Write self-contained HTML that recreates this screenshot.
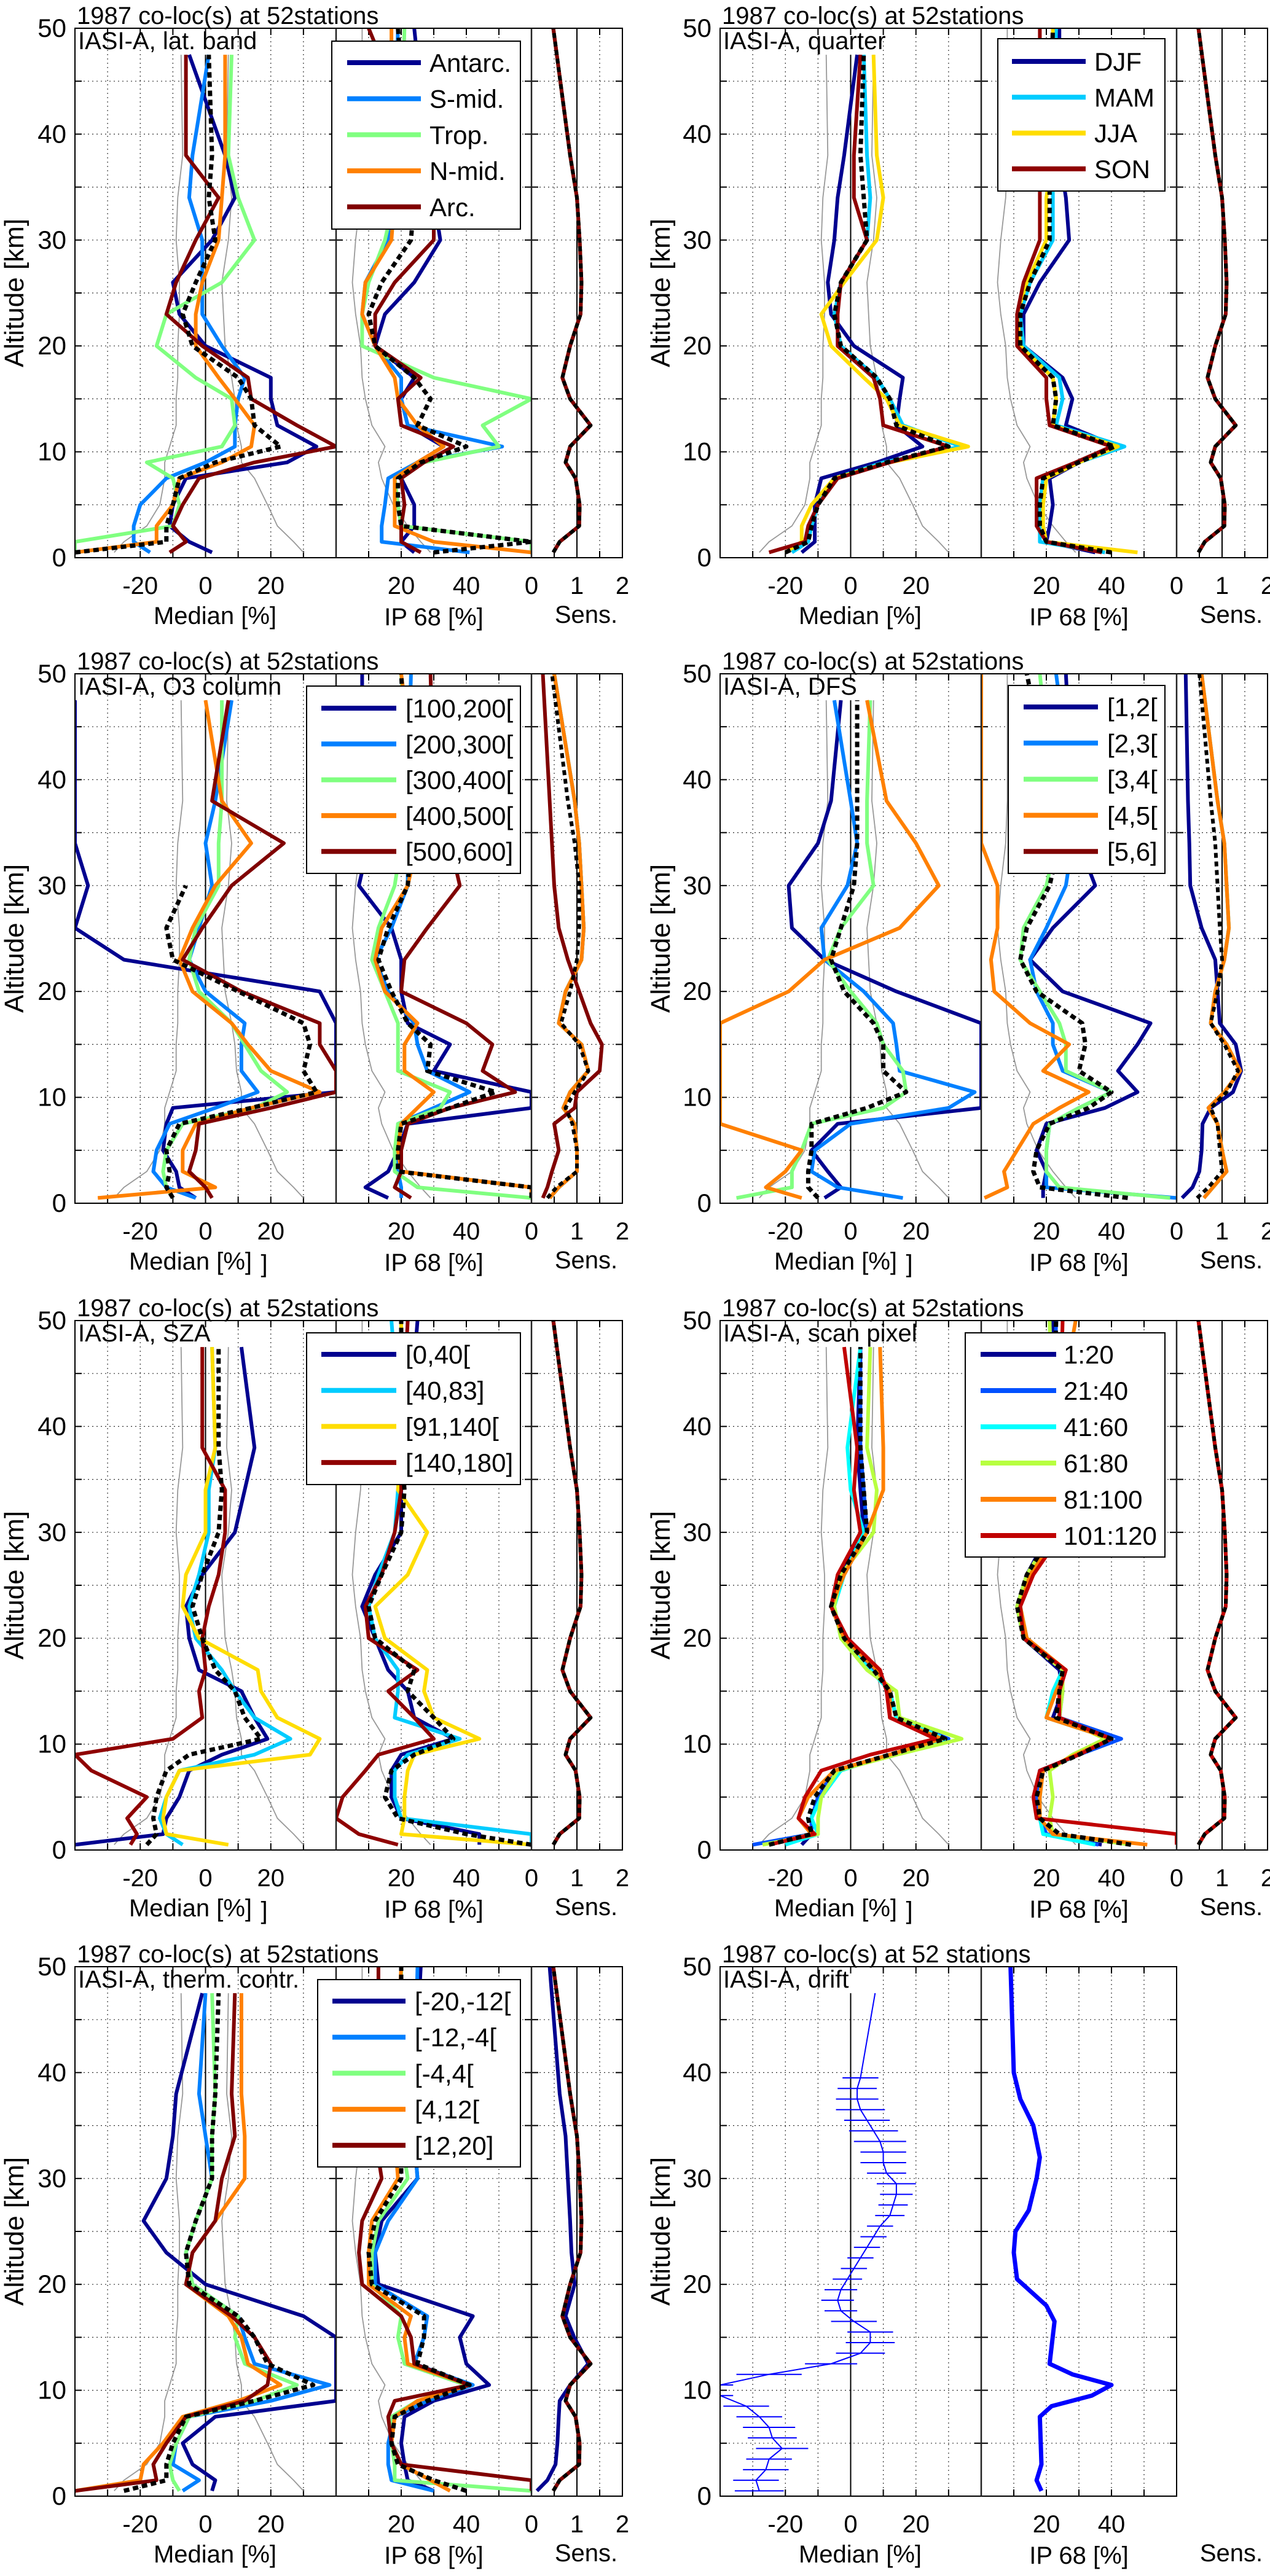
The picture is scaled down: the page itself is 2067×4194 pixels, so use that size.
<!DOCTYPE html>
<html><head><meta charset="utf-8"><title>IASI-A ozone validation profiles</title>
<style>
html,body{margin:0;padding:0;background:#fff;}
svg{display:block;font-family:"Liberation Sans",Arial,sans-serif;}
</style></head>
<body>
<svg id="fig" xmlns="http://www.w3.org/2000/svg" width="2067" height="4194" viewBox="0 0 2067 4194"></svg>
<script>
// ---------- altitude grids ----------
const ZM = [0.5,1.5,3,5,7.5,9,10.5,12.5,15,17,20,23,26,30,34,38,47.5];
const ZT = [0.5,1.5,3,5,7.5,9,10.5,12.5,15,17,20,23,26,30,34,38,50];

// ---------- shared gray envelopes ----------
const grayMedLeft  = [-28,-25,-18,-14,-12.5,-12.5,-11,-9,-9,-8.5,-8.5,-8,-8,-9,-8.5,-7,-7.5];
const grayMedRight = [30,27,22,19,15,11,11,9.5,9,8,6,5.5,5,7,8,6.5,7];
const grayIp       = [29,26,22,17.5,14,13,15,11,9,8,7.5,6,5,6,7.5,8,8];
const genSens      = [0.48,0.62,1.05,1.06,0.97,0.75,0.85,1.3,0.85,0.68,0.85,1.08,1.1,1.06,1.0,0.85,0.48];

// ---------- panel 1: lat. band ----------
const latNames = ["Antarc.","S-mid.","Trop.","N-mid.","Arc."];
const latMed = [
 [2,-5,-11,-10,-6,25,34,22,20,20,0,-8,-10,2,9,6,-5],
 [-17,-22,-22,-20,-12,0,9,9,10,12,5,-1,-1,-1,-5,-4,1],
 [-40,-40,-10,-8,-10,-18,5,9,8,-3,-15,-12,5,15,10,7,8],
 [-40,-15,-15,-10,-8,5,14,15,9,4,-3,-3,-1,4,5,6,6],
 [-11,-6,-10,-7,-2,15,40,28,14,13,-1,-12,-9,-3,4,-6,-6]];
const latIp = [
 [24,20,24,24,20,25,33,22,20,24,12,15,24,32,30,28,24],
 [41,14,14,15,16,25,51,22,20,20,12,8,9,16,18,18,19],
 [60,60,20,19,18,27,50,45,60,30,8,8,10,15,18,20,21],
 [60,30,18,18,18,25,33,25,19,18,12,8,9,17,18,17,17],
 [26,20,20,21,20,27,36,20,19,26,12,12,18,30,30,26,10]];
const latSens = [genSens,genSens,genSens,genSens,genSens];
const latMeanMed = [-40,-12,-12,-10,-8,3,23,15,14,10,-4,-7,-3,3,1,2,1];
const latMeanIp = [30,60,20,19,19,26,40,25,29,24,12,10,14,23,24,22,19];
const latMeanSens = genSens;

// ---------- panel 2: quarter ----------
const qNames = ["DJF","MAM","JJA","SON"];
const qMed = [
 [-15,-11,-11,-11,-9,8,22,14,15,16,1,-6,-7,-5,-4,-2,2],
 [-18,-13,-12,-10,-5,10,34,16,12,8,-3,-5,-3,5,6,5,4],
 [-20,-15,-15,-12,-5,12,36,15,11,4,-6,-9,-2,8,10,8,7],
 [-25,-14,-13,-10,-4,12,30,10,9,7,-4,-4,-3,5,1,1,3]];
const qIp = [
 [35,20,21,22,21,30,42,26,28,25,13,13,18,27,26,24,24],
 [38,18,18,18,19,30,44,23,25,24,13,12,15,22,22,22,23],
 [48,20,19,19,20,30,42,22,23,22,12,11,14,20,20,22,22],
 [37,20,17,17,17,29,40,21,20,20,11,11,13,18,18,18,18]];
const qSens = [genSens,genSens,genSens,genSens];
const qMeanMed = [-20,-13,-12,-10,-5,11,30,14,12,8,-3,-5,-3,5,4,3,4];
const qMeanIp = [40,20,18,18,19,30,41,22,23,22,12,12,15,21,21,21,22];
const qMeanSens = genSens;

// ---------- panel 3: O3 column ----------
const o3Names = ["[100,200[","[200,300[","[300,400[","[400,500[","[500,600]"];
const o3Med = [
 [-3,-8,-9,-13,-12,-10,40,40,40,40,35,-25,-40,-36,-40,-40,-40],
 [-3,-12,-16,-15,-11,3,16,11,11,12,0,-5,-2,2,0,3,8],
 [-10,-12,-13,-12,-7,15,25,17,12,8,-2,-5,-3,4,4,5,5],
 [-33,3,-7,-7,-3,14,35,20,13,8,-4,-8,-4,3,14,5,0],
 [2,0,-5,-3,-2,20,40,40,35,35,11,-7,-1,8,24,2,7]];
const o3Ip = [
 [16,9,16,19,22,60,60,30,35,22,20,20,17,7,10,8,8],
 [20,20,19,19,19,30,41,28,25,24,16,12,17,22,22,22,23],
 [60,25,18,18,19,32,35,19,19,19,15,11,13,18,20,22,20],
 [60,60,20,19,20,25,30,21,21,25,15,12,14,22,25,25,20],
 [23,18,20,20,22,35,55,45,48,40,20,21,28,38,35,30,29]];
const o3SensOther = [0.4,0.6,1.0,1.0,0.95,0.7,0.85,1.25,1.1,0.6,0.75,1.1,1.15,1.1,1.05,0.95,0.5];
const o3SensHigh = [0.25,0.35,0.45,0.6,0.5,0.95,1.0,1.5,1.55,1.3,1.05,0.8,0.6,0.5,0.45,0.4,0.25];
const o3Sens = [o3SensOther,o3SensOther,o3SensOther,o3SensOther,o3SensHigh];
const o3MeanMed = [-10,-12,-11,-12,-8,14,34,30,32,30,10,-10,-12,-6,null,null,null];
const o3MeanIp = [60,60,19,19,20,35,49,28,29,22,17,13,16,22,23,22,20];
const o3MeanSens = [0.35,0.55,1.0,1.0,0.9,0.75,0.95,1.25,1.05,0.65,0.85,1.0,1.05,1.05,0.95,0.8,0.45];

// ---------- panel 4: DFS ----------
const dfsNames = ["[1,2[","[2,3[","[3,4[","[4,5[","[5,6]"];
const dfsMed = [
 [-8,-3,-7,-12,-4,40,40,40,40,40,14,-8,-18,-19,-10,-6,-3],
 [16,-4,-12,-11,0,30,38,15,14,13,4,-8,-9,-1,2,0,-5],
 [-35,-18,-18,-15,-12,10,17,16,10,8,0,-7,-3,7,5,5,6],
 [-15,-26,-20,-15,-40,-40,-40,-40,-40,-40,-19,-8,15,27,20,11,5],
 [null,null,null,null,null,null,null,null,null,null,null,null,null,null,null,null,null]];
const dfsIp = [
 [19,19,20,17,20,38,48,42,48,52,25,15,22,35,30,28,26],
 [60,20,20,20,21,30,40,25,22,22,17,15,20,26,28,28,23],
 [58,24,20,20,21,30,40,26,26,24,18,12,13,20,23,22,18],
 [1,8,7,11,16,24,33,19,27,15,4,3,5,5,0,0,0],
 [null,null,null,null,null,null,null,null,null,null,null,null,null,null,null,null,null]];
const dfsSensLow = [0.12,0.35,0.5,0.55,0.57,0.75,1.24,1.42,1.3,0.95,0.9,0.85,0.55,0.3,0.28,0.25,0.2];
const dfsSensOther = [0.6,0.8,1.1,1.0,0.9,0.7,1.05,1.4,1.1,0.75,0.85,1.05,1.15,1.1,1.05,0.9,0.55];
const dfsSens = [dfsSensLow,dfsSensOther,dfsSensOther,dfsSensOther,dfsMed[4]];
const dfsMeanMed = [-10,-13,-13,-12,-12,5,17,10,10,7,-2,-6,-3,1,2,2,2];
const dfsMeanIp = [45,18,16,17,21,33,40,30,32,31,17,12,14,21,24,22,14];
const dfsMeanSens = [0.45,0.7,1.0,0.95,0.9,0.75,1.1,1.35,1.05,0.75,0.9,1.0,0.95,0.9,0.85,0.75,0.5];

// ---------- panel 5: SZA ----------
const szaNames = ["[0,40[","[40,83]","[91,140[","[140,180]"];
const szaMed = [
 [-40,-13,-12,-8,-5,5,19,15,11,-2,-5,-6,-1,9,12,15,11],
 [-7,-12,-14,-12,-8,15,26,15,9,5,-3,-5,-2,1,1,3,2],
 [7,-12,-13,-12,-8,32,35,22,17,16,-2,-7,-6,0,0,3,2],
 [-23,-21,-24,-18,-35,-40,-10,-1,-2,0,-1,1,4,6,6,-1,-1]];
const szaIp = [
 [44,44,20,17,17,20,36,24,22,16,12,8,12,20,20,22,25],
 [60,60,20,18,18,22,38,18,19,19,12,10,13,18,19,20,17],
 [60,20,21,21,22,24,44,30,27,28,15,12,22,28,19,20,20],
 [19,7,0,2,9,13,30,24,16,25,10,9,14,18,20,20,22]];
const szaSens = [genSens,genSens,genSens,genSens];
const szaMeanMed = [-18,-15,-16,-15,-12,-5,17,12,9,3,-1,-4,-1,4,5,4,4];
const szaMeanIp = [60,40,19,15,17,24,36,30,22,24,12,10,14,20,21,20,20];
const szaMeanSens = genSens;

// ---------- panel 6: scan pixel ----------
const scanNames = ["1:20","21:40","41:60","61:80","81:100","101:120"];
const scanMed = [
 [-15,-12,-12,-10,-5,12,28,12,12,8,-2,-6,-3,4,3,2,3],
 [-30,-12,-12,-10,-5,12,30,14,12,7,-2,-6,-2,5,4,3,3],
 [-20,-10,-12,-9,-3,12,29,14,12,6,-3,-5,-2,4,0,-1,3],
 [-27,-10,-10,-9,-4,14,34,15,14,5,-3,-5,-3,7,8,5,6],
 [-25,-12,-16,-13,-5,12,28,12,12,8,-2,-6,-2,5,10,10,9],
 [-25,-11,-16,-14,-9,6,26,12,11,9,-1,-6,-4,3,1,2,-2]];
const scanIp = [
 [37,20,18,17,18,30,40,22,25,24,13,11,14,21,22,22,22],
 [36,20,18,17,18,30,43,24,25,25,13,11,14,22,22,22,23],
 [35,19,18,18,19,30,40,20,22,25,14,12,15,22,22,22,21],
 [46,22,21,22,21,28,38,24,25,25,13,11,14,22,22,22,21],
 [51,22,18,18,19,29,40,20,23,26,14,12,15,24,23,22,29],
 [60,60,17,16,18,30,40,24,24,26,13,12,16,25,24,24,25]];
const scanSens = [genSens,genSens,genSens,genSens,genSens,genSens];
const scanMeanMed = [-25,-12,-13,-11,-5,12,29,14,12,7,-2,-6,-3,5,4,3,3];
const scanMeanIp = [46,24,18,17,19,30,40,23,24,25,13,11,14,22,22,22,23];
const scanMeanSens = genSens;

// ---------- panel 7: therm. contr. ----------
const thNames = ["[-20,-12[","[-12,-4[","[-4,4[","[4,12[","[12,20]"];
const thMed = [
 [2,3,-4,-7,3,40,40,40,40,30,0,-12,-19,-12,-10,-9,-1],
 [-7,-2,-10,-9,-5,20,38,15,12,10,-4,-6,-3,2,0,-2,0],
 [-8,-10,-11,-9,-5,15,28,12,9,10,-4,-6,-3,2,2,3,2],
 [-40,-20,-19,-13,-7,10,23,13,11,7,-6,-4,3,12,12,11,11],
 [-40,-15,-16,-12,-6,12,19,20,15,8,-6,-4,3,5,9,8,9]];
const thIp = [
 [30,22,21,20,21,30,47,40,38,42,13,12,14,25,24,24,26],
 [30,17,16,16,18,28,42,24,27,28,12,12,16,25,24,24,25],
 [60,18,18,17,17,25,40,21,19,20,11,11,13,22,20,20,20],
 [35,29,20,17,18,25,41,22,21,23,10,10,11,19,18,18,20],
 [60,60,20,17,16,18,41,24,23,20,8,7,8,14,12,13,13]];
const thSensLow = [0.12,0.35,0.53,0.57,0.6,0.62,0.85,1.25,0.94,0.75,0.95,0.88,0.85,0.8,0.75,0.62,0.4];
const thSens = [thSensLow,genSens,genSens,genSens,genSens];
const thMeanMed = [-25,-12,-12,-10,-6,15,33,19,15,10,-5,-6,-3,2,2,3,4];
const thMeanIp = [40,30,19,17,18,28,41,25,27,27,11,10,12,20,20,20,20];
const thMeanSens = genSens;

// ---------- panel 8: drift ----------
const driftZ = [0.5,1.5,2.5,3.5,4.5,5.5,6.5,7.5,8.5,9.5,10.5,11.5,12.5,13.5,14.5,15.5,16.5,17.5,18.5,19.5,20.5,21.5,22.5,23.5,24.5,25.5,26.5,27.5,28.5,29.5,30.5,31.5,32.5,33.5,34.5,35.5,36.5,37.5,38.5,39.5];
const driftMed = [-28,-29,-26,-25,-21,-24,-25,-28,-32,-40,-40,-25,-6,3,6,6,1,-3,-4,-3,-1,1,3,5,7,9,12,13,14,14,11,10,10,9,7,5,3,2,2,3];
const driftErr = [7.5,7,7,7,8,7.5,8,7,7,4,4,10,8,7.5,7.5,7,7,5,5,5,4.5,4,4,4,4,4,4.5,4.5,5,6,6,7,7,8,7.5,7,7.5,6.5,6,5.5];
const driftTopZ = 47.5;
const driftTopMed = 7.5;
const driftIpZ = [0.5,1.5,3,7.5,8.5,9.5,10.5,11.5,12.5,16.5,18,20.5,23,25,27,30,32,35,37.5,40,50];
const driftIp = [18.5,17,18.5,18,21.6,34,40,28,21,22.5,20,11,10,10.5,14.6,17,18,16,12,10,9];

// ---------- layout ----------
const ROW_T = [46,1097,2150,3202];
const PH = 862;
const COLX = [122,1172];
const SVGNS = "http://www.w3.org/2000/svg";
const svg = document.getElementById('fig');

function mk(tag, parent){
  const el = document.createElementNS(SVGNS, tag);
  parent.appendChild(el);
  return el;
}
function txt(parent, s, x, y, size, anchor){
  const t = mk('text', parent);
  t.setAttribute('x', x); t.setAttribute('y', y);
  t.setAttribute('font-size', size);
  t.setAttribute('text-anchor', anchor || 'start');
  t.setAttribute('fill', '#000');
  t.textContent = s;
  return t;
}
function poly(parent, pts, color, w, dash){
  // split on null values
  let segs = [], cur = [];
  pts.forEach(p => { if (p === null) { if (cur.length) segs.push(cur); cur = []; } else cur.push(p); });
  if (cur.length) segs.push(cur);
  const els = [];
  segs.forEach(s => {
    if (s.length < 2) return;
    const pl = mk('polyline', parent);
    pl.setAttribute('points', s.map(p => p[0].toFixed(1)+','+p[1].toFixed(1)).join(' '));
    pl.setAttribute('fill', 'none');
    pl.setAttribute('stroke', color);
    pl.setAttribute('stroke-width', w);
    pl.setAttribute('stroke-linejoin', 'round');
    if (dash) pl.setAttribute('stroke-dasharray', dash);
    els.push(pl);
  });
  return els;
}
let clipId = 0;
function clipRect(x, y, w, h){
  const defs = mk('defs', svg);
  const cp = mk('clipPath', defs);
  const id = 'c' + (clipId++);
  cp.setAttribute('id', id);
  const r = mk('rect', cp);
  r.setAttribute('x', x); r.setAttribute('y', y); r.setAttribute('width', w); r.setAttribute('height', h);
  return 'url(#' + id + ')';
}
function hline(parent, x1, x2, y, color, w, dash){
  const l = mk('line', parent);
  l.setAttribute('x1', x1); l.setAttribute('x2', x2); l.setAttribute('y1', y); l.setAttribute('y2', y);
  l.setAttribute('stroke', color); l.setAttribute('stroke-width', w);
  if (dash) l.setAttribute('stroke-dasharray', dash);
  return l;
}
function vline(parent, x, y1, y2, color, w, dash){
  const l = mk('line', parent);
  l.setAttribute('x1', x); l.setAttribute('x2', x); l.setAttribute('y1', y1); l.setAttribute('y2', y2);
  l.setAttribute('stroke', color); l.setAttribute('stroke-width', w);
  if (dash) l.setAttribute('stroke-dasharray', dash);
  return l;
}

function drawPanel(P){
  const X0 = COLX[P.col], XM = X0 + 425, XI = XM + 318, XS = XI + 148;
  const T = ROW_T[P.row], B = T + PH;
  const yz = z => T + (50 - z) / 50 * PH;
  const xMed = v => X0 + (v + 40) / 80 * 425;
  const xIp = v => XM + v / 60 * 318;
  const xSens = v => XI + v / 2 * 148;
  const XR = P.noSens ? XI : XS;

  const g = mk('g', svg);
  
  

  // title
  const title = txt(g, P.title, X0 + 3, T - 7, 40);
  
  

  // grid
  const grid = mk('g', g);
  
  
  for (let z = 5; z < 50; z += 5) hline(grid, X0, XR, yz(z), '#333', 1.2, '2,5');
  [-30,-20,-10,10,20,30].forEach(v => vline(grid, xMed(v), T, B, '#333', 1.2, '2,5'));
  [10,20,30,40,50].forEach(v => vline(grid, xIp(v), T, B, '#333', 1.2, '2,5'));
  if (!P.noSens) [0.5,1.5].forEach(v => vline(grid, xSens(v), T, B, '#333', 1.2, '2,5'));
  const zeroLine = vline(g, xMed(0), yz(47.5), B, '#000', 2);
  
  
  if (!P.noSens) {
    const oneLine = vline(g, xSens(1), T, B, '#000', 2);
    
    
  }

  // ticks
  const ticks = mk('g', g);
  
  
  const edges = P.noSens ? [[X0, XM], [XM, XI]] : [[X0, XM], [XM, XI], [XI, XS]];
  edges.forEach(e => {
    for (let z = 5; z < 50; z += 5) {
      hline(ticks, e[0], e[0] + 11, yz(z), '#000', 2);
      hline(ticks, e[1] - 11, e[1], yz(z), '#000', 2);
    }
  });
  const xt = [...[-30,-20,-10,0,10,20,30].map(xMed), ...[10,20,30,40,50].map(xIp)];
  if (!P.noSens) xt.push(...[0.5,1,1.5].map(xSens));
  xt.forEach(x => { vline(ticks, x, B - 11, B, '#000', 2); vline(ticks, x, T, T + 11, '#000', 2); });

  // clips
  const cM = clipRect(X0, T, 425, PH), cI = clipRect(XM, T, 318, PH), cS = clipRect(XI, T, 148, PH);
  const gM = mk('g', g); gM.setAttribute('clip-path', cM);
  
  
  const gI = mk('g', g); gI.setAttribute('clip-path', cI);
  
  
  const gS = mk('g', g); gS.setAttribute('clip-path', cS);
  
  

  if (P.drift) {
    // drift median + error bars
    const pts = driftZ.map((z, i) => [xMed(driftMed[i]), yz(z)]);
    pts.push([xMed(driftTopMed), yz(driftTopZ)]);
    poly(gM, pts, '#0000ff', 2).forEach(el => {
      
      
    });
    driftZ.forEach((z, i) => {
      const eb = hline(gM, xMed(driftMed[i] - driftErr[i]), xMed(driftMed[i] + driftErr[i]), yz(z), '#0000ff', 2);
      
      
    });
    poly(gI, driftIpZ.map((z, i) => [xIp(driftIp[i]), yz(z)]), '#0000ff', 7).forEach(el => {
      
      
    });
  } else {
    // gray envelopes
    [grayMedLeft, grayMedRight].forEach(arr => {
      poly(gM, ZM.map((z, i) => [xMed(arr[i]), yz(z)]), '#999', 1.8).forEach(el => {
        
        
      });
    });
    poly(gI, ZT.map((z, i) => [xIp(grayIp[i]), yz(z)]), '#999', 1.8).forEach(el => {
      
      
    });
    P.names.forEach((nm, s) => {
      const m = P.med[s], ip = P.ip[s], se = P.sens[s];
      poly(gM, ZM.map((z, i) => m[i] === null ? null : [xMed(m[i]), yz(z)]), P.colors[s], 6).forEach(el => {
        
        
      });
      poly(gI, ZT.map((z, i) => ip[i] === null ? null : [xIp(ip[i]), yz(z)]), P.colors[s], 6).forEach(el => {
        
        
      });
      poly(gS, ZT.map((z, i) => se[i] === null ? null : [xSens(se[i]), yz(z)]), P.colors[s], 6).forEach(el => {
        
        
      });
    });
    poly(gM, ZM.map((z, i) => P.meanMed[i] === null ? null : [xMed(P.meanMed[i]), yz(z)]), '#000', 7, '9,6').forEach(el => {
      
      
    });
    poly(gI, ZT.map((z, i) => [xIp(P.meanIp[i]), yz(z)]), '#000', 7, '9,6').forEach(el => {
      
      
    });
    poly(gS, ZT.map((z, i) => [xSens(P.meanSens[i]), yz(z)]), '#000', 6, '8,6').forEach(el => {
      
      
    });
  }

  // frame
  const frame = mk('rect', g);
  frame.setAttribute('x', X0); frame.setAttribute('y', T);
  frame.setAttribute('width', XR - X0); frame.setAttribute('height', PH);
  frame.setAttribute('fill', 'none'); frame.setAttribute('stroke', '#000'); frame.setAttribute('stroke-width', 2);
  
  
  const d1 = vline(g, XM, T, B, '#222', 2.5);
  
  
  if (!P.noSens) {
    const d2 = vline(g, XI, T, B, '#222', 2.5);
    
    
  }

  // panel label
  const lab = txt(g, P.label, X0 + 5, T + 34, 40);
  
  

  // y tick labels
  for (let z = 0; z <= 50; z += 10) {
    const yl = txt(g, String(z), X0 - 14, yz(z) + 14, 42, 'end');
    
    
  }
  const yt = txt(g, 'Altitude [km]', 0, 0, 44, 'middle');
  yt.setAttribute('transform', 'translate(' + (P.col ? X0 - 82 : X0 - 84) + ',' + (T + PH / 2) + ') rotate(-90)');
  
  

  // x tick labels
  [-20,0,20].forEach(v => {
    const l = txt(g, String(v), xMed(v), B + 59, 40, 'middle');
    
    
  });
  [20,40].forEach(v => {
    const l = txt(g, String(v), xIp(v), B + 59, 40, 'middle');
    
    
  });
  if (!P.noSens) [0,1,2].forEach(v => {
    const l = txt(g, String(v), xSens(v), B + 59, 40, 'middle');
    
    
  });
  const mx = (P.row === 1 || P.row === 2) ? X0 + 188 : X0 + 228;
  const xl1 = txt(g, 'Median [%]', mx, B + 108, 40, 'middle');
  
  
  if (P.row === 1 || P.row === 2) {
    const br = txt(g, ']', X0 + 308, B + 112, 40, 'middle');
    
    
  }
  const xl2 = txt(g, 'IP 68 [%]', X0 + 584, B + 110, 40, 'middle');
  
  
  const xl3 = txt(g, 'Sens.', X0 + 832, B + 106, 40, 'middle');
  
  

  // legend
  if (P.leg) {
    const L = P.leg;
    const lg = mk('g', g);
    
    
    const box = mk('rect', lg);
    box.setAttribute('x', L.x1); box.setAttribute('y', T + L.y1);
    box.setAttribute('width', L.x2 - L.x1); box.setAttribute('height', L.y2 - L.y1);
    box.setAttribute('fill', '#fff'); box.setAttribute('stroke', '#000'); box.setAttribute('stroke-width', 2);
    
    
    P.names.forEach((nm, s) => {
      const yy = T + L.e0 + s * L.dy;
      const ln = hline(lg, L.lx1, L.lx2, yy, P.colors[s], 8);
      
      
      const lt = txt(lg, nm, L.tx, yy + 15, 42);
      
      
    });
  }
}

const C5 = ['#00008f','#0080ff','#80ff80','#ff8000','#800000'];
const C4 = ['#00008f','#00ccff','#ffdd00','#8f0000'];
const C6 = ['#00008f','#0050ff','#00ffff','#b8ff40','#ff8000','#c00000'];
const T1 = '1987 co-loc(s) at 52stations';

const legL = {x1:540,x2:847,y1:21,y2:327,e0:56,dy:58.7,lx1:565,lx2:685,tx:699};
const legO = {x1:499,x2:847,y1:20,y2:325,e0:56,dy:58.3,lx1:523,lx2:645,tx:660};
const legS = {x1:499,x2:847,y1:20,y2:267,e0:55,dy:58.7,lx1:523,lx2:645,tx:660};
const legT = {x1:517,x2:847,y1:21,y2:326,e0:56,dy:58.7,lx1:541,lx2:660,tx:675};
const legQ = {x1:1624,x2:1896,y1:17,y2:265,e0:54,dy:58.3,lx1:1647,lx2:1767,tx:1781};
const legD = {x1:1641,x2:1896,y1:19,y2:325,e0:54,dy:58.8,lx1:1666,lx2:1787,tx:1802};
const legP = {x1:1571,x2:1896,y1:20,y2:385,e0:55,dy:59,lx1:1596,lx2:1719,tx:1731};

drawPanel({key:'lat-band',col:0,row:0,title:T1,label:'IASI-A, lat. band',names:latNames,colors:C5,med:latMed,ip:latIp,sens:latSens,meanMed:latMeanMed,meanIp:latMeanIp,meanSens:latMeanSens,leg:legL});
drawPanel({key:'quarter',col:1,row:0,title:T1,label:'IASI-A, quarter',names:qNames,colors:C4,med:qMed,ip:qIp,sens:qSens,meanMed:qMeanMed,meanIp:qMeanIp,meanSens:qMeanSens,leg:legQ});
drawPanel({key:'o3-column',col:0,row:1,title:T1,label:'IASI-A, O3 column',names:o3Names,colors:C5,med:o3Med,ip:o3Ip,sens:o3Sens,meanMed:o3MeanMed,meanIp:o3MeanIp,meanSens:o3MeanSens,leg:legO});
drawPanel({key:'dfs',col:1,row:1,title:T1,label:'IASI-A, DFS',names:dfsNames,colors:C5,med:dfsMed,ip:dfsIp,sens:dfsSens,meanMed:dfsMeanMed,meanIp:dfsMeanIp,meanSens:dfsMeanSens,leg:legD});
drawPanel({key:'sza',col:0,row:2,title:T1,label:'IASI-A, SZA',names:szaNames,colors:C4,med:szaMed,ip:szaIp,sens:szaSens,meanMed:szaMeanMed,meanIp:szaMeanIp,meanSens:szaMeanSens,leg:legS});
drawPanel({key:'scan-pixel',col:1,row:2,title:T1,label:'IASI-A, scan pixel',names:scanNames,colors:C6,med:scanMed,ip:scanIp,sens:scanSens,meanMed:scanMeanMed,meanIp:scanMeanIp,meanSens:scanMeanSens,leg:legP});
drawPanel({key:'therm-contr',col:0,row:3,title:T1,label:'IASI-A, therm. contr.',names:thNames,colors:C5,med:thMed,ip:thIp,sens:thSens,meanMed:thMeanMed,meanIp:thMeanIp,meanSens:thMeanSens,leg:legT});
drawPanel({key:'drift',col:1,row:3,title:'1987 co-loc(s) at 52 stations',label:'IASI-A, drift',drift:true,noSens:true,names:[],colors:[]});
</script>
</body></html>
